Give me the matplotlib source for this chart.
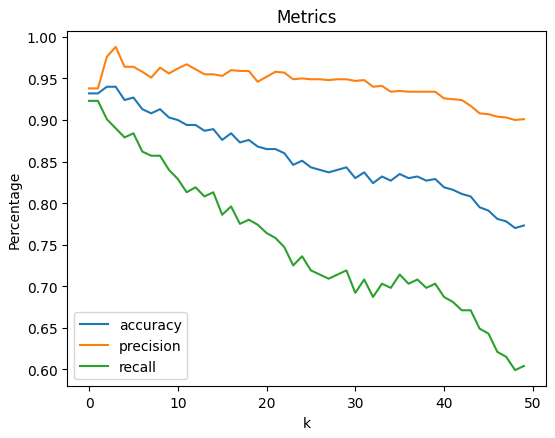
import numpy as np
import matplotlib
matplotlib.use("Agg")
import matplotlib.pyplot as plt

k = list(range(50))

accuracy = [0.932, 0.932, 0.940, 0.940, 0.924, 0.927, 0.913, 0.908, 0.913, 0.903,
            0.900, 0.894, 0.894, 0.887, 0.889, 0.876, 0.884, 0.873, 0.876, 0.868,
            0.865, 0.865, 0.860, 0.846, 0.851, 0.843, 0.840, 0.837, 0.840, 0.843,
            0.830, 0.837, 0.824, 0.832, 0.827, 0.835, 0.830, 0.832, 0.827, 0.829,
            0.819, 0.816, 0.811, 0.808, 0.795, 0.791, 0.781, 0.778, 0.770, 0.773]

precision = [0.938, 0.938, 0.976, 0.988, 0.964, 0.964, 0.958, 0.951, 0.963, 0.956,
             0.962, 0.967, 0.961, 0.955, 0.955, 0.953, 0.960, 0.959, 0.959, 0.946,
             0.952, 0.958, 0.957, 0.949, 0.950, 0.949, 0.949, 0.948, 0.949, 0.949,
             0.947, 0.948, 0.940, 0.941, 0.934, 0.935, 0.934, 0.934, 0.934, 0.934,
             0.926, 0.925, 0.924, 0.917, 0.908, 0.907, 0.904, 0.903, 0.900, 0.901]

recall = [0.923, 0.923, 0.901, 0.890, 0.879, 0.884, 0.862, 0.857, 0.857, 0.840,
          0.829, 0.813, 0.819, 0.808, 0.813, 0.786, 0.796, 0.775, 0.780, 0.774,
          0.764, 0.758, 0.747, 0.725, 0.736, 0.719, 0.714, 0.709, 0.714, 0.719,
          0.692, 0.708, 0.687, 0.703, 0.698, 0.714, 0.703, 0.708, 0.698, 0.703,
          0.687, 0.681, 0.671, 0.671, 0.649, 0.643, 0.621, 0.615, 0.599, 0.604]

fig, ax = plt.subplots(figsize=(5.55, 4.39), dpi=100)
fig.subplots_adjust(left=0.1213, right=0.9832, top=0.9278, bottom=0.1178)

ax.plot(k, accuracy, label='accuracy')
ax.plot(k, precision, label='precision')
ax.plot(k, recall, label='recall')

ax.set_title('Metrics')
ax.set_xlabel('k')
ax.set_ylabel('Percentage')
ax.legend(loc='lower left')

plt.savefig('out.png')
